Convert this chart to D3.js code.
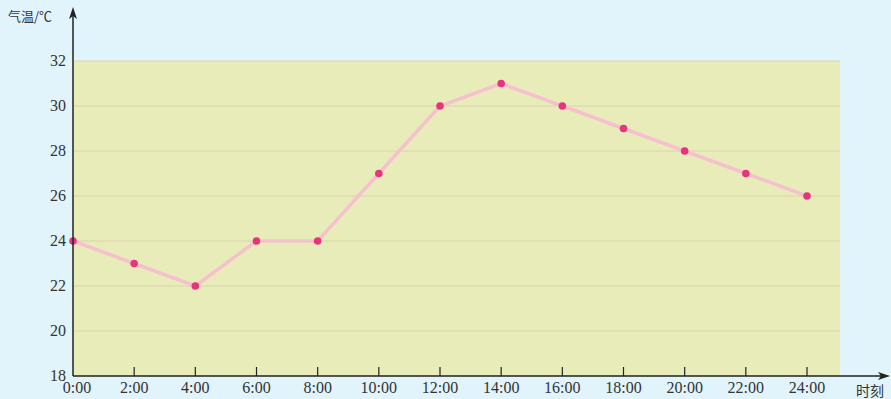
<!DOCTYPE html>
<html><head><meta charset="utf-8">
<script src="https://cdn.jsdelivr.net/npm/d3@7"></script>
<style>body{margin:0;background:#e1f3fb;}svg{display:block;}</style>
</head><body>
<svg id="c" width="891" height="399"></svg>
<script>
const hours = [0,2,4,6,8,10,12,14,16,18,20,22,24];
const temps = [24,23,22,24,24,27,30,31,30,29,28,27,26];
const xTickLabels = ["0:00","2:00","4:00","6:00","8:00","10:00","12:00","14:00","16:00","18:00","20:00","22:00","24:00"];
const yTicks = [18,20,22,24,26,28,30,32];

const svg = d3.select("#c");
const x = d3.scaleLinear().domain([0,24]).range([73,807]);
const y = d3.scaleLinear().domain([18,32]).range([376,61]);
const font = "'Liberation Serif','DejaVu Serif',serif";

svg.append("rect").attr("width",891).attr("height",399).attr("fill","#e1f3fb");
svg.append("rect").attr("x",x(0)).attr("y",y(32)).attr("width",840-x(0)).attr("height",y(18)-y(32)).attr("fill","#e7ecb9");
svg.append("g").selectAll("line").data(yTicks.slice(1)).join("line")
  .attr("x1",x(0)).attr("x2",840).attr("y1",d=>y(d)).attr("y2",d=>y(d))
  .attr("stroke","#dcd3ae").attr("stroke-width",1);

const line = d3.line().x((d,i)=>x(hours[i])).y(d=>y(d));
svg.append("path").datum(temps).attr("d",line).attr("fill","none")
  .attr("stroke","#f7c0ce").attr("stroke-width",3.5);
svg.append("g").selectAll("circle").data(temps).join("circle")
  .attr("cx",(d,i)=>x(hours[i])).attr("cy",d=>y(d)).attr("r",3.8).attr("fill","#e8347e");

const ax = svg.append("g").attr("stroke","#222").attr("stroke-width",1.5);
ax.append("line").attr("x1",x(0)).attr("x2",884).attr("y1",y(18)).attr("y2",y(18));
ax.append("line").attr("x1",x(0)).attr("x2",x(0)).attr("y1",y(18)).attr("y2",14);
svg.append("path").attr("d",`M${x(0)},7 L${x(0)-4},19 L${x(0)},16 L${x(0)+4},19 Z`).attr("fill","#222");
svg.append("path").attr("d",`M890,${y(18)} L878,${y(18)-4} L881,${y(18)} L878,${y(18)+4} Z`).attr("fill","#222");
svg.append("g").selectAll("line").data(hours.slice(1)).join("line")
  .attr("x1",d=>x(d)).attr("x2",d=>x(d)).attr("y1",y(18)).attr("y2",y(18)-9)
  .attr("stroke","#222").attr("stroke-width",1.2);
svg.append("g").selectAll("text").data(hours).join("text")
  .attr("x",(d,i)=>x(d)+(i===0?4:0)).attr("y",393).attr("text-anchor","middle")
  .attr("font-family",font).attr("font-size",16).attr("fill","#333")
  .text((d,i)=>xTickLabels[i]);
svg.append("g").selectAll("text").data(yTicks).join("text")
  .attr("x",66).attr("y",d=>y(d)+5).attr("text-anchor","end")
  .attr("font-family",font).attr("font-size",16).attr("fill","#333")
  .text(d=>d);
svg.append("text").attr("x",8).attr("y",21).attr("font-family","'Noto Sans CJK SC',sans-serif")
  .attr("font-size",13).attr("fill","#333").text("气温/℃");
svg.append("text").attr("x",856).attr("y",396).attr("font-family","'Noto Sans CJK SC',sans-serif")
  .attr("font-size",14).attr("fill","#333").text("时刻");
</script>
</body></html>
